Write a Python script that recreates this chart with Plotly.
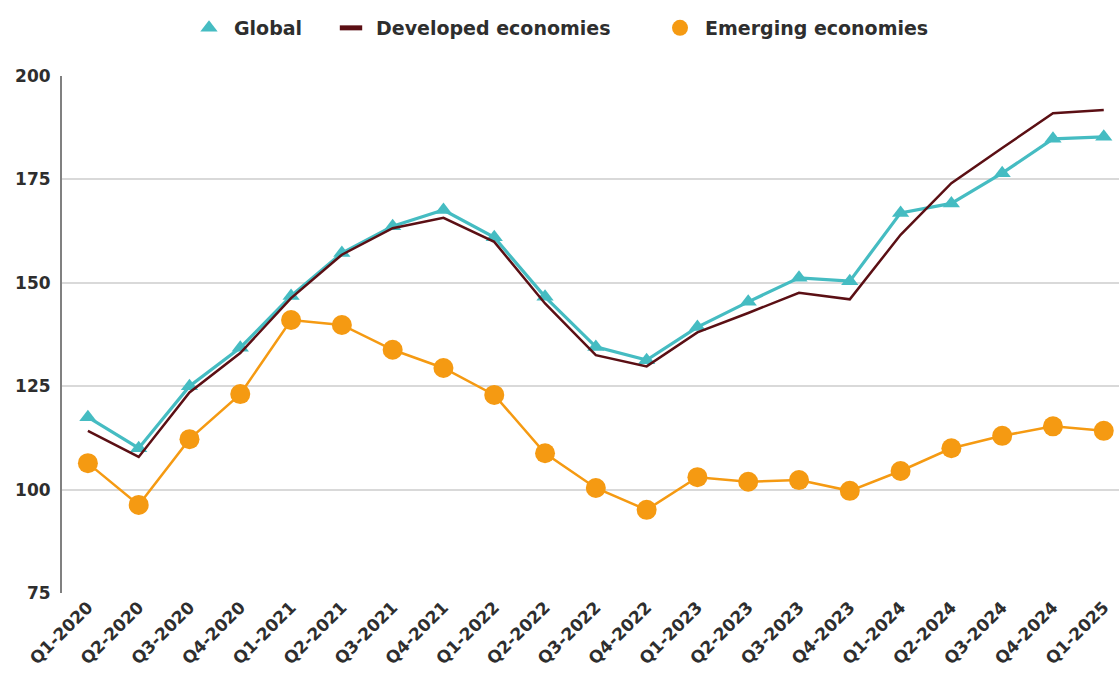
import plotly.graph_objects as go

quarters = [
    "Q1-2020", "Q2-2020", "Q3-2020", "Q4-2020",
    "Q1-2021", "Q2-2021", "Q3-2021", "Q4-2021",
    "Q1-2022", "Q2-2022", "Q3-2022", "Q4-2022",
    "Q1-2023", "Q2-2023", "Q3-2023", "Q4-2023",
    "Q1-2024", "Q2-2024", "Q3-2024", "Q4-2024",
    "Q1-2025",
]

global_idx = [117.5, 110.0, 125.0, 134.3, 146.8, 157.2, 163.7, 167.6,
              161.0, 146.6, 134.5, 131.3, 139.3, 145.4, 151.2, 150.4,
              166.9, 169.2, 176.5, 184.8, 185.3]

developed_idx = [114.2, 107.9, 123.5, 133.0, 146.3, 156.8, 163.2, 165.7,
                 159.9, 145.0, 132.5, 129.8, 138.0, 142.7, 147.6, 146.0,
                 161.6, 174.1, 182.6, 191.0, 191.8]

emerging_idx = [106.4, 96.3, 112.2, 123.1, 141.0, 139.8, 133.8, 129.4,
                122.9, 108.8, 100.4, 95.1, 103.0, 101.9, 102.3, 99.7,
                104.5, 110.0, 113.0, 115.3, 114.2]

y_ticks = [75, 100, 125, 150, 175, 200]

TEAL = "#45bcc2"
MAROON = "#5b0f14"
ORANGE = "#f59a12"
TEXT = "#2e2e2e"
FONT = "DejaVu Sans, Verdana, sans-serif"
W, H = 1119, 684

fig = go.Figure()

# data series (legend keys are drawn separately as symbol-only entries)
fig.add_trace(go.Scatter(
    x=quarters, y=global_idx, name="Global",
    mode="lines+markers", showlegend=False,
    line=dict(color=TEAL, width=3.2),
    marker=dict(symbol="triangle-up", size=15, color=TEAL),
))
fig.add_trace(go.Scatter(
    x=quarters, y=developed_idx, name="Developed economies",
    mode="lines", showlegend=False,
    line=dict(color=MAROON, width=2.5),
))
fig.add_trace(go.Scatter(
    x=quarters, y=emerging_idx, name="Emerging economies",
    mode="lines+markers", showlegend=False,
    line=dict(color=ORANGE, width=2.5),
    marker=dict(symbol="circle", size=20, color=ORANGE),
))

# one legend per key so each sits at its own spot along the top
legend_keys = [
    ("Global", "legend", 184,
     dict(symbol="triangle-up", size=15, color=TEAL)),
    ("Developed economies", "legend2", 326,
     dict(symbol="line-ew", size=22, line=dict(color=MAROON, width=6))),
    ("Emerging economies", "legend3", 655,
     dict(symbol="circle", size=22, color=ORANGE)),
]
legend_style = dict(
    orientation="h",
    xanchor="left", xref="container",
    y=1 - 28 / H, yanchor="middle", yref="container",
    font=dict(family=FONT, size=19, color=TEXT, weight="bold"),
    itemwidth=40,
    bgcolor="rgba(0,0,0,0)",
)
legends = {}
for label, lg, left_px, mk in legend_keys:
    fig.add_trace(go.Scatter(
        x=[None], y=[None], name=label, mode="markers",
        marker=mk, showlegend=True, legend=lg, hoverinfo="skip",
    ))
    legends[lg] = dict(legend_style, x=left_px / W)

fig.update_layout(
    width=W, height=H,
    margin=dict(l=62, r=0, t=76, b=91),
    paper_bgcolor="white",
    plot_bgcolor="white",
    font=dict(family=FONT, size=17, color=TEXT),
    **legends,
    xaxis=dict(
        type="category",
        range=[-0.51, 20.3],
        tickangle=-45,
        showgrid=False,
        showline=False,
        ticks="",
        tickfont=dict(family=FONT, size=17, color=TEXT, weight="bold"),
    ),
    yaxis=dict(
        range=[75, 200],
        tickvals=y_ticks,
        showgrid=True,
        gridcolor="#d9d9d9",
        gridwidth=2,
        zeroline=False,
        showline=True,
        linecolor="#808080",
        linewidth=2,
        ticks="",
        ticklabelstandoff=6,
        tickfont=dict(family=FONT, size=17, color=TEXT, weight="bold"),
    ),
)

fig.write_html("out.html")
